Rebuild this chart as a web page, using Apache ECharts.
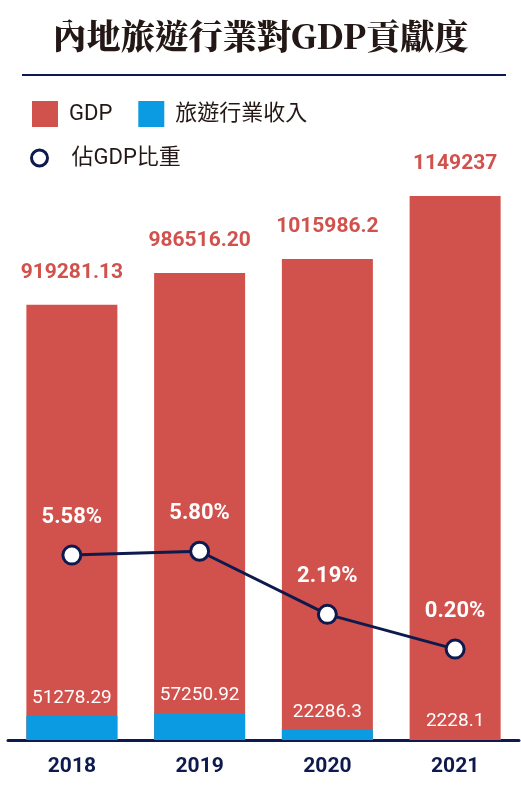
<!DOCTYPE html>
<html>
<head>
<meta charset="utf-8">
<script src="https://cdn.jsdelivr.net/npm/echarts@6/dist/echarts.min.js"></script>
<style>
  html, body { margin: 0; padding: 0; background: #fff; }
  #chart { width: 521px; height: 800px; }
</style>
</head>
<body>
<div id="chart"></div>
<script>
var years = ['2018', '2019', '2020', '2021'];
var gdp = [919281.13, 986516.20, 1015986.2, 1149237];
var gdpLabels = ['919281.13', '986516.20', '1015986.2', '1149237'];
var tourism = [51278.29, 57250.92, 22286.3, 2228.1];
var tourismLabels = ['51278.29', '57250.92', '22286.3', '2228.1'];
var share = [5.58, 5.80, 2.19, 0.20];
var shareLabels = ['5.58%', '5.80%', '2.19%', '0.20%'];

var red = '#d1514c';
var blue = '#0a9be3';
var navy = '#0e1a4d';
var font = 'Roboto, "Noto Sans CJK TC", sans-serif';

var chart = echarts.init(document.getElementById('chart'));

chart.setOption({
  animation: false,
  title: {
    text: '內地旅遊行業對GDP貢獻度',
    left: 'center',
    top: 14,
    textStyle: { fontFamily: '"Noto Serif CJK TC", "Noto Sans CJK TC", serif', fontSize: 34, fontWeight: 900, color: '#231815' }
  },
  graphic: [{
    type: 'line',
    shape: { x1: 22, y1: 75, x2: 506, y2: 75 },
    style: { stroke: navy, lineWidth: 2 }
  }],
  legend: [{
    data: ['GDP', '旅遊行業收入'],
    left: 27, top: 96,
    itemWidth: 26, itemHeight: 26, itemGap: 26,
    icon: 'rect',
    textStyle: { fontFamily: font, fontSize: 22, color: '#231815', padding: [0, 0, 0, 6] }
  }, {
    data: [{ name: '佔GDP比重', icon: 'circle' }],
    left: 25, top: 142,
    itemWidth: 54, itemHeight: 16,
    itemStyle: { color: '#fff', borderColor: navy, borderWidth: 3 },
    lineStyle: { color: navy, width: 3 },
    textStyle: { fontFamily: font, fontSize: 22, color: '#231815' }
  }],
  grid: { left: 8, right: 2, top: 172, bottom: 60 },
  xAxis: {
    type: 'category',
    data: years,
    axisLine: { lineStyle: { color: navy, width: 3 } },
    axisTick: { show: false },
    axisLabel: { fontFamily: font, fontSize: 21, fontWeight: 'bold', color: navy, margin: 16 }
  },
  yAxis: [{
    type: 'value', min: 0, max: 1200000, show: false
  }, {
    type: 'value', min: -5, max: 27.5, show: false
  }],
  series: [{
    name: 'GDP',
    type: 'bar',
    data: gdp,
    barWidth: 91,
    barGap: '-100%',
    itemStyle: { color: red },
    label: {
      show: true, position: 'top', distance: 22,
      formatter: function (p) { return gdpLabels[p.dataIndex]; },
      fontFamily: font, fontSize: 21, fontWeight: 'bold', color: red
    }
  }, {
    name: '旅遊行業收入',
    type: 'bar',
    data: tourism,
    barWidth: 91,
    itemStyle: { color: blue },
    label: {
      show: true, position: 'top', distance: 8,
      formatter: function (p) { return tourismLabels[p.dataIndex]; },
      fontFamily: font, fontSize: 19, color: '#fff'
    }
  }, {
    name: '佔GDP比重',
    type: 'line',
    yAxisIndex: 1,
    data: share,
    symbol: 'circle',
    symbolSize: 18,
    lineStyle: { color: navy, width: 3 },
    itemStyle: { color: '#fff', borderColor: navy, borderWidth: 3 },
    label: {
      show: true, position: 'top', distance: 16,
      formatter: function (p) { return shareLabels[p.dataIndex]; },
      fontFamily: font, fontSize: 22, fontWeight: 'bold', color: '#fff'
    },
    z: 5
  }]
});
</script>
</body>
</html>
